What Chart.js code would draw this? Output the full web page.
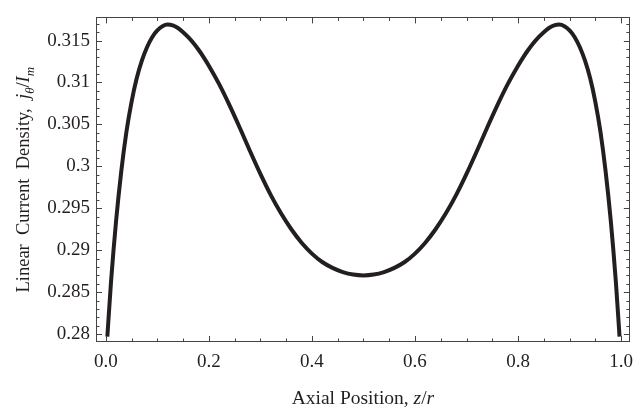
<!DOCTYPE html>
<html>
<head>
<meta charset="utf-8">
<script src="https://cdn.jsdelivr.net/npm/chart.js@4/dist/chart.umd.min.js"></script>
<style>
  html, body { margin: 0; padding: 0; background: #fff; }
  #wrap { width: 642px; height: 411px; position: relative; }
</style>
</head>
<body>
<div id="wrap"><canvas id="c" width="642" height="411"></canvas></div>
<script>
// Axial position z/r
const zValues = [
  0.003, 0.01, 0.02, 0.03, 0.04, 0.05, 0.06, 0.07, 0.08, 0.09,
  0.10, 0.11, 0.12, 0.13, 0.14, 0.15, 0.16, 0.17, 0.18, 0.19,
  0.20, 0.22, 0.24, 0.26, 0.28, 0.30, 0.32, 0.34, 0.36, 0.38,
  0.40, 0.42, 0.44, 0.46, 0.48, 0.50, 0.52, 0.54, 0.56, 0.58,
  0.60, 0.62, 0.64, 0.66, 0.68, 0.70, 0.72, 0.74, 0.76, 0.78,
  0.80, 0.81, 0.82, 0.83, 0.84, 0.85, 0.86, 0.87, 0.88, 0.89,
  0.90, 0.91, 0.92, 0.93, 0.94, 0.95, 0.96, 0.97, 0.98, 0.99,
  0.997
];
// Linear current density j_theta / I_m
const densityValues = [
  0.2797, 0.2861, 0.2935, 0.2994, 0.3041, 0.3077, 0.3105, 0.3126, 0.3142, 0.3154,
  0.3162, 0.3167, 0.3169, 0.3168, 0.3165, 0.3160, 0.3154, 0.3147, 0.3139, 0.3130,
  0.3120, 0.3098, 0.3073, 0.3046, 0.3018, 0.2991, 0.2966, 0.2944, 0.2925, 0.2909,
  0.2896, 0.2886, 0.2879, 0.2874, 0.2871, 0.2870, 0.2871, 0.2874, 0.2879, 0.2886,
  0.2896, 0.2909, 0.2925, 0.2944, 0.2966, 0.2991, 0.3018, 0.3046, 0.3073, 0.3098,
  0.3120, 0.3130, 0.3139, 0.3147, 0.3154, 0.3160, 0.3165, 0.3168, 0.3169, 0.3167,
  0.3162, 0.3154, 0.3142, 0.3126, 0.3105, 0.3077, 0.3041, 0.2994, 0.2935, 0.2861,
  0.2797
];
const xTickValues = [0, 0.2, 0.4, 0.6, 0.8, 1.0];
const xTickLabels = ["0.0", "0.2", "0.4", "0.6", "0.8", "1.0"];
const yTickValues = [0.28, 0.285, 0.29, 0.295, 0.30, 0.305, 0.31, 0.315];
const yTickLabels = ["0.28", "0.285", "0.29", "0.295", "0.3", "0.305", "0.31", "0.315"];

const FONT = "'Liberation Serif', 'Times New Roman', serif";
const INK = '#231f20';
const FRAME = '#444';

const framePlugin = {
  id: 'frameTicks',
  afterDraw(chart) {
    const ctx = chart.ctx;
    const a = chart.chartArea;
    const xs = chart.scales.x, ys = chart.scales.y;
    ctx.save();
    ctx.strokeStyle = FRAME;
    ctx.lineWidth = 1;
    ctx.strokeRect(Math.round(a.left) + 0.5, Math.round(a.top) + 0.5,
                   Math.round(a.right - a.left) - 1, Math.round(a.bottom - a.top) - 1);
    ctx.beginPath();
    for (let i = 0; i <= 20; i++) {
      const v = i * 0.05;
      const major = i % 4 === 0;
      const len = major ? 6 : 3.5;
      const px = Math.round(xs.getPixelForValue(v)) + 0.5;
      ctx.moveTo(px, a.bottom); ctx.lineTo(px, a.bottom - len);
      ctx.moveTo(px, a.top); ctx.lineTo(px, a.top + len);
    }
    for (let i = 279; i <= 318; i++) {
      const v = i / 1000;
      if (v < ys.min || v > ys.max) continue;
      const major = i % 5 === 0;
      const len = major ? 6 : 3.5;
      const py = Math.round(ys.getPixelForValue(v)) + 0.5;
      ctx.moveTo(a.left, py); ctx.lineTo(a.left + len, py);
      ctx.moveTo(a.right, py); ctx.lineTo(a.right - len, py);
    }
    ctx.stroke();

    function rich(parts, size) {
      const out = [];
      let w = 0;
      for (const p of parts) {
        const s = p.sub ? size * 0.7 : size;
        const f = (p.it ? 'italic ' : '') + s + 'px ' + FONT;
        ctx.font = f;
        const pw = ctx.measureText(p.t).width;
        out.push({ t: p.t, f, w: pw, dy: p.sub ? size * 0.25 : 0 });
        w += pw;
      }
      return { out, w };
    }
    function drawRich(r, cx, cy) {
      let x = cx - r.w / 2;
      ctx.textBaseline = 'alphabetic';
      ctx.textAlign = 'left';
      for (const p of r.out) {
        ctx.font = p.f;
        ctx.fillText(p.t, x, cy + p.dy);
        x += p.w;
      }
    }
    ctx.fillStyle = INK;
    const xt = rich([
      { t: 'Axial Position, ' }, { t: 'z', it: true }, { t: '/' }, { t: 'r', it: true }
    ], 19.5);
    drawRich(xt, (a.left + a.right) / 2, 404);

    const yt = rich([
      { t: 'Linear  Current  Density,  ' }, { t: 'j', it: true }, { t: 'θ', it: true, sub: true },
      { t: '/' }, { t: 'I', it: true }, { t: 'm', it: true, sub: true }
    ], 18.5);
    ctx.save();
    ctx.translate(29, (a.top + a.bottom) / 2);
    ctx.rotate(-Math.PI / 2);
    drawRich(yt, 0, 0);
    ctx.restore();
    ctx.restore();
  }
};

new Chart(document.getElementById('c'), {
  type: 'line',
  data: {
    datasets: [{
      data: zValues.map((z, i) => ({ x: z, y: densityValues[i] })),
      borderColor: INK,
      borderWidth: 4,
      pointRadius: 0,
      cubicInterpolationMode: 'monotone',
      fill: false,
      borderJoinStyle: 'round'
    }]
  },
  options: {
    responsive: false,
    animation: false,
    devicePixelRatio: 1,
    layout: { padding: { top: 5, right: 2, left: 0, bottom: 0 } },
    plugins: { legend: { display: false }, tooltip: { enabled: false } },
    scales: {
      x: {
        type: 'linear',
        min: -0.019,
        max: 1.017,
        grid: { display: false, drawTicks: false },
        border: { display: false },
        afterBuildTicks: s => { s.ticks = xTickValues.map(v => ({ value: v })); },
        afterFit: s => { s.height = 69; },
        ticks: {
          padding: 9,
          color: INK,
          font: { family: FONT, size: 19 },
          maxRotation: 0,
          autoSkip: false,
          callback: (v) => { const i = xTickValues.findIndex(t => Math.abs(t - v) < 1e-9); return i >= 0 ? xTickLabels[i] : ''; }
        }
      },
      y: {
        type: 'linear',
        min: 0.27906,
        max: 0.31776,
        grid: { display: false, drawTicks: false },
        border: { display: false },
        afterBuildTicks: s => { s.ticks = yTickValues.map(v => ({ value: v })); },
        afterFit: s => { s.width = 96; },
        ticks: {
          padding: 6,
          color: INK,
          font: { family: FONT, size: 19 },
          autoSkip: false,
          callback: (v) => { const i = yTickValues.findIndex(t => Math.abs(t - v) < 1e-9); return i >= 0 ? yTickLabels[i] : ''; }
        }
      }
    }
  },
  plugins: [framePlugin]
});
</script>
</body>
</html>
